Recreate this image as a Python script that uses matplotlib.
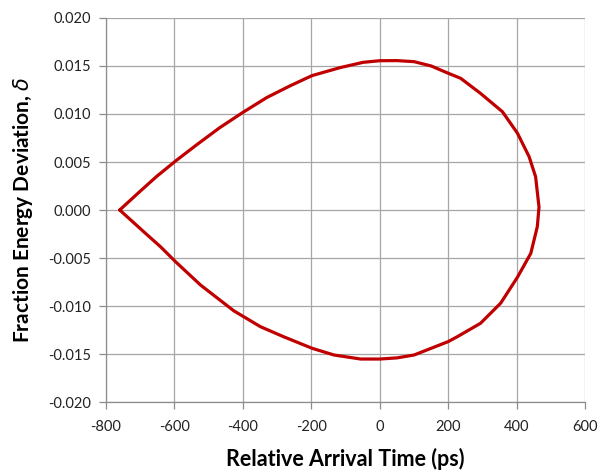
import matplotlib
matplotlib.use("Agg")
import matplotlib.pyplot as plt

# Separatrix (time in ps, fractional energy deviation)
upper_t = [-760, -702, -653, -597, -536, -468, -400, -331, -263, -198, -117,
           -49, 0, 50, 100, 150, 200, 236, 294, 358, 402, 436, 455, 465]
upper_d = [0.0, 0.0019, 0.00347, 0.0051, 0.00677, 0.00857, 0.01017, 0.0117,
           0.01292, 0.0140, 0.01482, 0.01538, 0.01555, 0.01556, 0.01545,
           0.0150, 0.01424, 0.01372, 0.01215, 0.01024, 0.0080, 0.00556,
           0.00347, 0.0003]
lower_t = [465, 460, 441, 402, 353, 294, 226, 200, 100, 50, 0, -56, -134,
           -198, -281, -349, -427, -524, -597, -641, -690, -760]
lower_d = [0.0003, -0.00174, -0.00451, -0.0070, -0.0097, -0.0118, -0.0132,
           -0.0137, -0.0151, -0.0154, -0.01552, -0.01552, -0.0151, -0.0144,
           -0.0132, -0.01215, -0.01049, -0.00781, -0.00538, -0.00382,
           -0.00226, 0.0]

x_ticks = [-800, -600, -400, -200, 0, 200, 400, 600]
y_ticks = [-0.020, -0.015, -0.010, -0.005, 0.000, 0.005, 0.010, 0.015, 0.020]

plt.rcParams['font.family'] = ['Lato', 'DejaVu Sans']
plt.rcParams['axes.unicode_minus'] = False

fig = plt.figure(figsize=(5.99, 4.73), dpi=100)
ax = fig.add_axes([0.177, 0.150, 0.800, 0.812])

t = upper_t + lower_t[1:]
d = upper_d + lower_d[1:]
ax.plot(t, d, color='#c00000', linewidth=2.3, solid_joinstyle='round',
        solid_capstyle='round', zorder=3)

ax.set_xlim(-800, 600)
ax.set_ylim(-0.02, 0.02)
ax.set_xticks(x_ticks)
ax.set_yticks(y_ticks)
ax.set_yticklabels([f"{v:.3f}" for v in y_ticks])
ax.grid(True, color='#a6a6a6', linewidth=0.9)
ax.set_axisbelow(True)

for side in ['top', 'right']:
    ax.spines[side].set_visible(False)
for side in ['left', 'bottom']:
    ax.spines[side].set_color('#8c8c8c')
    ax.spines[side].set_linewidth(0.9)
ax.tick_params(direction='out', length=5, width=0.9, color='#8c8c8c',
               labelsize=10.5, labelcolor='#222222')
ax.tick_params(axis='x', pad=8)
ax.tick_params(axis='y', pad=6)

ax.set_xlabel("Relative Arrival Time (ps)", fontsize=15.5, fontweight='bold', labelpad=10)
ax.set_ylabel(r"Fraction Energy Deviation, $\delta$", fontsize=15, fontweight='bold', labelpad=9)

fig.savefig("out.png", dpi=100)
